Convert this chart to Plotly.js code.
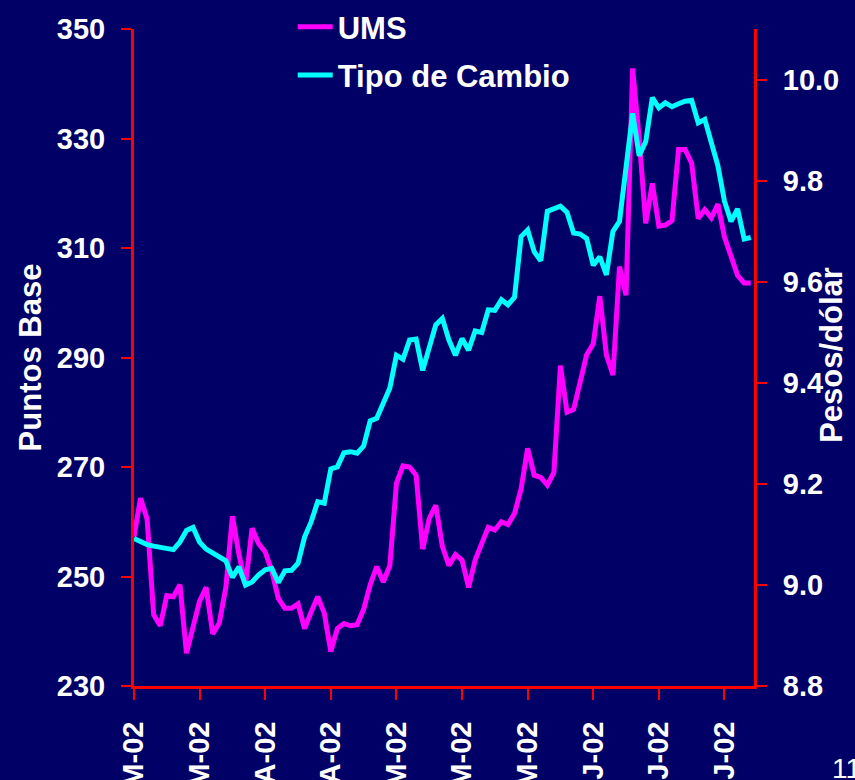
<!DOCTYPE html>
<html>
<head>
<meta charset="utf-8">
<script src="https://cdn.plot.ly/plotly-3.0.1.min.js"></script>
<style>
  html, body { margin: 0; padding: 0; background: #000066; }
  #chart { width: 855px; height: 780px; }
</style>
</head>
<body>
<div id="chart"></div>
<script>
// ---- data (one point per trading day) ----
const ums = [
  257.3, 264.3, 260.5, 243.0, 241.0, 246.5, 246.3, 248.5, 236.0, 241.0,
  245.5, 248.0, 239.5, 241.5, 248.0, 261.0, 254.0, 248.5, 258.8, 256.0,
  254.5, 251.0, 246.0, 244.2, 244.2, 245.0, 240.5, 243.5, 246.3, 243.3,
  236.3, 240.5, 241.4, 241.0, 241.2, 244.0, 248.5, 251.8, 249.0, 252.0,
  267.0, 270.2, 270.0, 268.5, 255.0, 260.6, 263.0, 255.5, 252.0, 254.0,
  253.0, 248.0, 253.0, 256.0, 259.0, 258.5, 260.0, 259.5, 261.5, 266.0,
  273.4, 268.5, 268.1, 266.7, 269.0, 288.5, 280.0, 280.5, 286.0, 290.5,
  292.5, 301.2, 290.5, 286.8, 306.6, 301.4, 342.8, 330.0, 314.5, 321.8,
  314.0, 314.2, 315.0, 328.0, 328.0, 325.5, 315.4, 317.0, 315.5, 318.0,
  312.0, 308.5, 305.0, 303.6, 303.6
];
const tipoCambio = [
  9.092, 9.085, 9.080, 9.077, 9.074, 9.072, 9.070, 9.085, 9.108, 9.114,
  9.085, 9.071, 9.063, 9.056, 9.048, 9.015, 9.036, 9.000, 9.006, 9.020,
  9.030, 9.033, 9.005, 9.028, 9.029, 9.043, 9.095, 9.125, 9.165, 9.162,
  9.230, 9.234, 9.262, 9.264, 9.261, 9.275, 9.325, 9.330, 9.360, 9.390,
  9.455, 9.447, 9.485, 9.487, 9.425, 9.470, 9.515, 9.528, 9.485, 9.455,
  9.488, 9.465, 9.503, 9.500, 9.545, 9.544, 9.565, 9.555, 9.570, 9.690,
  9.703, 9.660, 9.642, 9.740, 9.745, 9.750, 9.738, 9.697, 9.695, 9.686,
  9.633, 9.650, 9.614, 9.700, 9.720, 9.830, 9.934, 9.850, 9.878, 9.965,
  9.945, 9.955, 9.947, 9.953, 9.958, 9.960, 9.915, 9.922, 9.875, 9.830,
  9.760, 9.720, 9.745, 9.685, 9.688
];
const tickPositions = [0, 10, 20, 30, 40, 50, 60, 70, 80, 90];
const tickLabels = ["M-02", "M-02", "A-02", "A-02", "M-02", "M-02", "M-02", "J-02", "J-02", "J-02"];
const leftTicks = [230, 250, 270, 290, 310, 330, 350];
const rightTicks = [8.8, 9.0, 9.2, 9.4, 9.6, 9.8, 10.0];

const days = ums.map((_, i) => i);

const BG = "#000066";
const RED = "#ff0000";
const FONT = "Arial, 'Liberation Sans', sans-serif";
const tickFont = { family: FONT, size: 29, color: "#ffffff", weight: "bold" };

const traces = [
  {
    x: days, y: ums, name: "UMS", type: "scatter", mode: "lines",
    line: { color: "#ff00ff", width: 5 }, xaxis: "x", yaxis: "y",
    legendgroup: "a"
  },
  {
    x: days, y: tipoCambio, name: "Tipo de Cambio", type: "scatter", mode: "lines",
    line: { color: "#00ffff", width: 5 }, xaxis: "x", yaxis: "y2",
    legendgroup: "b"
  }
];

const xRange = [0, 94.5];
const yRange = [230, 350];
const y2Range = [8.8, 10.101];

const layout = {
  width: 855, height: 780,
  paper_bgcolor: BG, plot_bgcolor: BG,
  margin: { l: 134, r: 101, t: 29, b: 94, pad: 0, autoexpand: false },
  showlegend: true,
  legend: {
    xref: "paper", yref: "container",
    x: 0.256, y: 1.016, xanchor: "left", yanchor: "top",
    itemwidth: 35,
    bgcolor: "rgba(0,0,0,0)", traceorder: "grouped", tracegroupgap: 5,
    font: { family: FONT, size: 31, color: "#ffffff", weight: "bold" }
  },
  xaxis: {
    range: xRange, tickmode: "array", tickvals: tickPositions, ticktext: tickLabels,
    tickangle: -90, ticks: "outside", ticklen: 11, tickwidth: 2, tickcolor: RED,
    showline: true, linecolor: RED, linewidth: 3, showgrid: false, zeroline: false,
    tickfont: tickFont, ticklabelstandoff: 10, automargin: false, fixedrange: true
  },
  xaxis2: {
    range: xRange, overlaying: "x", anchor: "y", tickmode: "array", tickvals: tickPositions,
    ticks: "inside", ticklen: 10, tickwidth: 2, tickcolor: RED, showticklabels: false,
    showline: false, showgrid: false, zeroline: false
  },
  yaxis: {
    range: yRange, tickmode: "array", tickvals: leftTicks,
    ticks: "outside", ticklen: 10, tickwidth: 2, tickcolor: RED,
    showline: true, linecolor: RED, linewidth: 3, showgrid: false, zeroline: false,
    tickfont: tickFont, ticklabelstandoff: 10, automargin: false,
    title: { text: "Puntos Base", standoff: 6, font: { family: FONT, size: 31, color: "#ffffff", weight: "bold" } }
  },
  yaxis3: {
    range: yRange, overlaying: "y", anchor: "x", side: "left", tickmode: "array", tickvals: leftTicks,
    ticks: "inside", ticklen: 9, tickwidth: 2, tickcolor: RED, showticklabels: false,
    showline: false, showgrid: false, zeroline: false
  },
  yaxis2: {
    range: y2Range, overlaying: "y", anchor: "x", side: "right", tickmode: "array", tickvals: rightTicks,
    tickformat: ".1f",
    ticks: "outside", ticklen: 10, tickwidth: 2, tickcolor: RED,
    showline: true, linecolor: RED, linewidth: 3, showgrid: false, zeroline: false,
    tickfont: tickFont, ticklabelstandoff: 10, automargin: false
  },
  yaxis4: {
    range: y2Range, overlaying: "y", anchor: "x", side: "right", tickmode: "array", tickvals: rightTicks,
    ticks: "inside", ticklen: 10, tickwidth: 2, tickcolor: RED, showticklabels: false,
    showline: false, showgrid: false, zeroline: false
  },
  annotations: [
    {
      text: "Pesos/dólar", textangle: -90, xref: "paper", yref: "paper",
      x: 1.1258, y: 0.504, xanchor: "center", yanchor: "middle", showarrow: false,
      font: { family: FONT, size: 31, color: "#ffffff", weight: "bold" }
    },
    {
      text: "11", xref: "paper", yref: "paper", x: 1.1226, y: -0.125,
      xanchor: "left", yanchor: "middle", showarrow: false,
      font: { family: FONT, size: 28, color: "#ffffff" }
    }
  ]
};

Plotly.newPlot("chart", traces, layout, { displayModeBar: false, staticPlot: true });
</script>
</body>
</html>
